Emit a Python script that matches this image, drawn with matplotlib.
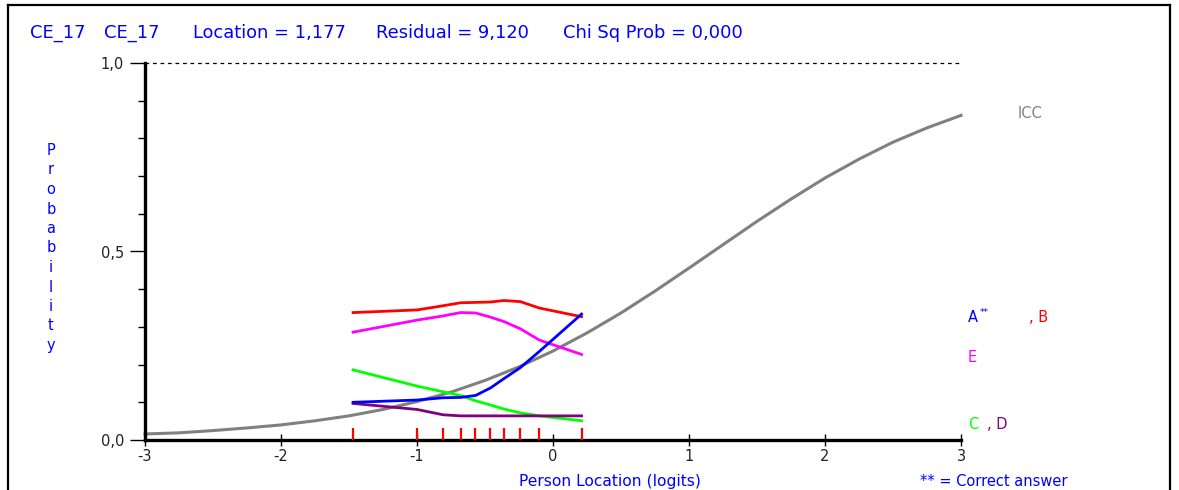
import matplotlib
matplotlib.use("Agg")
import matplotlib.pyplot as plt
from matplotlib.ticker import MultipleLocator

plt.rcParams["font.family"] = ["DejaVu Sans"]
plt.rcParams["axes.unicode_minus"] = False

W, H = 1179, 490

# Item characteristic curve (expected score across person location)
icc_x = [-3.0, -2.75, -2.5, -2.25, -2.0, -1.75, -1.5, -1.25, -1.0, -0.75, -0.5, -0.25,
         0.0, 0.25, 0.5, 0.75, 1.0, 1.25, 1.5, 1.75, 2.0, 2.25, 2.5, 2.75, 3.0]
icc_y = [0.016, 0.019, 0.025, 0.032, 0.040, 0.051, 0.064, 0.081, 0.102, 0.127, 0.158, 0.194,
         0.236, 0.284, 0.337, 0.395, 0.456, 0.518, 0.580, 0.639, 0.695, 0.745, 0.790, 0.828, 0.861]

# Class-interval means and observed proportion choosing each option
class_x = [-1.47, -1.00, -0.81, -0.68, -0.57, -0.46, -0.36, -0.24, -0.10, 0.21]
opt_a = [0.100, 0.106, 0.112, 0.113, 0.118, 0.138, 0.163, 0.192, 0.235, 0.334]
opt_b = [0.338, 0.345, 0.356, 0.364, 0.365, 0.366, 0.370, 0.367, 0.350, 0.327]
opt_c = [0.186, 0.143, 0.128, 0.118, 0.104, 0.093, 0.082, 0.072, 0.064, 0.051]
opt_d = [0.097, 0.081, 0.067, 0.064, 0.064, 0.064, 0.064, 0.064, 0.064, 0.064]
opt_e = [0.286, 0.318, 0.329, 0.338, 0.337, 0.326, 0.314, 0.295, 0.265, 0.227]

x_ticks = [-3, -2, -1, 0, 1, 2, 3]
x_tick_labels = ["-3", "-2", "-1", "0", "1", "2", "3"]
y_ticks = [0.0, 0.5, 1.0]
y_tick_labels = ["0,0", "0,5", "1,0"]

BLUE = "#0000ff"
fig = plt.figure(figsize=(W / 100, H / 100), dpi=100)


def fx(px):
    return px / W


def fy(py):
    return 1 - py / H


# Outer table frame
bg = fig.add_axes([0, 0, 1, 1])
bg.set_xlim(0, W)
bg.set_ylim(H, 0)
bg.axis("off")
bg.plot([8, 1170], [5, 5], color="black", lw=1.6)
bg.plot([8, 8], [5, H], color="black", lw=1.6)
bg.plot([1170, 1170], [5, H], color="black", lw=1.6)

ax = fig.add_axes([fx(145), fy(440), fx(961) - fx(145), fy(63) - fy(440)])
ax.set_xlim(-3, 3)
ax.set_ylim(0, 1)
ax.patch.set_alpha(0)
for s in ["top", "right"]:
    ax.spines[s].set_visible(False)
ax.spines["left"].set_linewidth(2.4)
ax.spines["bottom"].set_linewidth(2.4)

ax.set_xticks(x_ticks)
ax.set_xticklabels(x_tick_labels, fontsize=10.5, color="#222222")
ax.set_yticks(y_ticks)
ax.set_yticklabels(y_tick_labels, fontsize=10.5, color="#222222")
ax.yaxis.set_minor_locator(MultipleLocator(0.1))
ax.tick_params(axis="x", direction="inout", length=9, width=1, pad=2)
ax.tick_params(axis="y", which="major", direction="out", length=11, width=1, pad=4)
ax.tick_params(axis="y", which="minor", direction="out", length=5, width=1)

# Upper asymptote
ax.plot([-3, 3], [1, 1], color="black", lw=0.9, ls=(0, (3, 3)), clip_on=False)

# Expected curve
ax.plot(icc_x, icc_y, color="#808080", lw=2.2, clip_on=False, zorder=2)

# Observed option proportions
ax.plot(class_x, opt_b, color="#ff0000", lw=2.0, zorder=3)
ax.plot(class_x, opt_e, color="#ff00ff", lw=2.0, zorder=3)
ax.plot(class_x, opt_c, color="#00ff00", lw=2.0, zorder=3)
ax.plot(class_x, opt_d, color="#800080", lw=2.0, zorder=3)
ax.plot(class_x, opt_a, color="#0000ff", lw=2.0, zorder=4)

# Class interval markers
ax.vlines(class_x, 0, 0.032, color="#ff0000", lw=1.6, zorder=5)

# Header
for txt, px in [("CE_17", 30), ("CE_17", 104), ("Location = 1,177", 193),
                ("Residual = 9,120", 376), ("Chi Sq Prob = 0,000", 563)]:
    fig.text(fx(px), fy(33), txt, color=BLUE, fontsize=12.9, ha="left", va="center")

# Vertical axis title, one letter per line
for i, ch in enumerate("Probability"):
    fig.text(fx(51), fy(155 + 19.5 * i), ch, color=BLUE, fontsize=10.5,
             ha="center", va="baseline")

fig.text(fx(610), fy(481), "Person Location (logits)", color=BLUE, fontsize=11.2,
         ha="center", va="center")
fig.text(fx(920), fy(481), "** = Correct answer", color=BLUE, fontsize=10.5,
         ha="left", va="center")

fig.text(fx(1018), fy(114), "ICC", color="#808080", fontsize=10.5, ha="left", va="center")
fig.text(fx(968), fy(318), "A", color=BLUE, fontsize=10.5, ha="left", va="center")
fig.text(fx(980), fy(313), "**", color=BLUE, fontsize=6.5, ha="left", va="center")
fig.text(fx(1029), fy(318), ", B", color="#ff0000", fontsize=10.5, ha="left", va="center")
fig.text(fx(968), fy(357), "E", color="#ff00ff", fontsize=10.5, ha="left", va="center")
fig.text(fx(968), fy(424), "C", color="#00ff00", fontsize=10.5, ha="left", va="center")
fig.text(fx(987), fy(424), ", D", color="#800080", fontsize=10.5, ha="left", va="center")

fig.savefig("out.png", dpi=100)
